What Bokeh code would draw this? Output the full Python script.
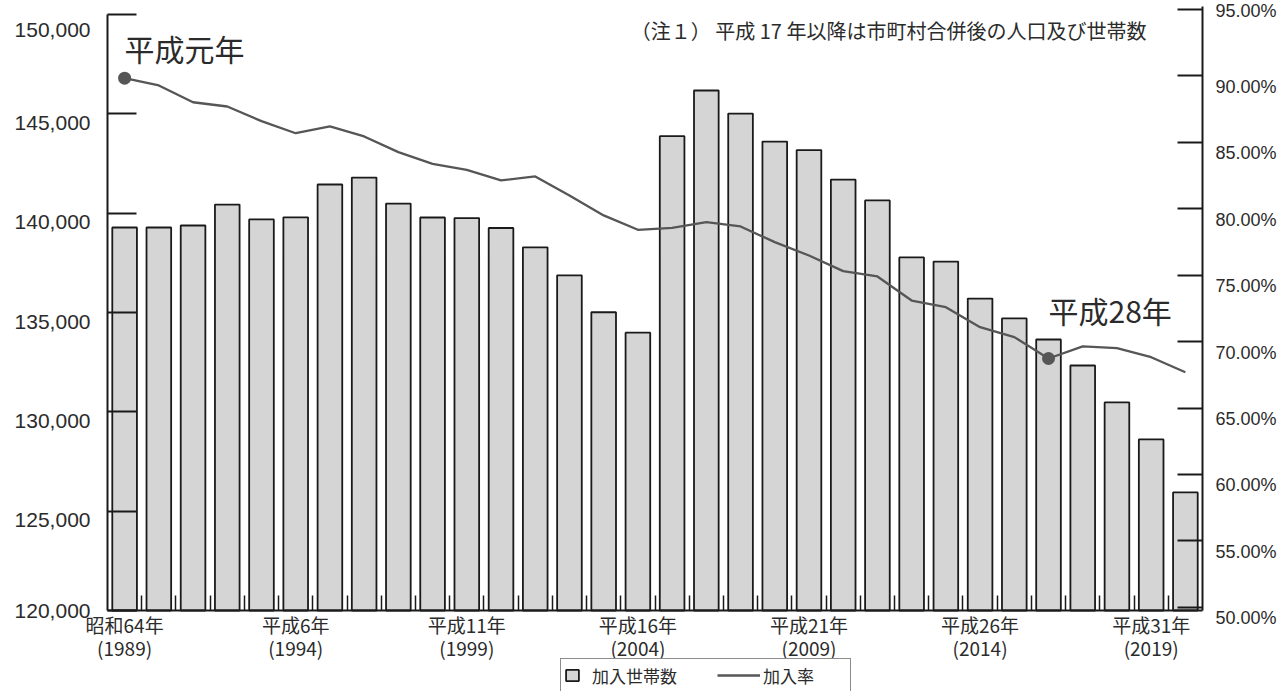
from bokeh.plotting import figure
from bokeh.models import (Range1d, LinearAxis, FixedTicker, Legend, LegendItem,
                          Label, NumeralTickFormatter, PrintfTickFormatter)
from bokeh.embed import file_html
from bokeh.resources import INLINE

# ---------------- data ----------------
years = list(range(1989, 2021))
households = [139275, 139275, 139375, 140430, 139680, 139790, 141440, 141790,
              140480, 139780, 139750, 139250, 138280, 136870, 135010, 133980,
              143870, 146170, 145010, 143600, 143170, 141690, 140640, 137770,
              137560, 135700, 134700, 133640, 132330, 130470, 128610, 125940]
rate = [89.8, 89.25, 87.99, 87.67, 86.57, 85.66, 86.17, 85.42,
        84.24, 83.36, 82.91, 82.11, 82.41, 80.98, 79.48, 78.40,
        78.55, 78.97, 78.65, 77.47, 76.47, 75.29, 74.89, 73.08,
        72.58, 71.08, 70.33, 68.72, 69.63, 69.50, 68.82, 67.69]
highlight_years = [1989, 2016]
label_years = [1989, 1994, 1999, 2004, 2009, 2014, 2019]
label_texts = ["昭和64年\n(1989)", "平成6年\n(1994)", "平成11年\n(1999)",
               "平成16年\n(2004)", "平成21年\n(2009)", "平成26年\n(2014)",
               "平成31年\n(2019)"]
left_ticks = [120000, 125000, 130000, 135000, 140000, 145000, 150000]
right_ticks = [50, 55, 60, 65, 70, 75, 80, 85, 90, 95]
note_text = "（注１） 平成 17 年以降は市町村合併後の人口及び世帯数"
legend_bar = "加入世帯数"
legend_line = "加入率"

JP = "Noto Sans CJK JP"
NUM = "Liberation Sans"
INK = "#1a1a1a"
TXT = "#2b2b2b"
GRAY = "#565656"

BASE = 120000
X0, X1 = 1988.5, 2020.5          # category edges of the bar area
p = figure(width=1287, height=691,
           x_range=Range1d(1985.373, 2022.984),
           y_range=Range1d(115923.5, 150700),
           output_backend="svg", toolbar_location=None,
           min_border_left=0, min_border_right=0,
           min_border_top=0, min_border_bottom=0)
p.extra_y_ranges = {"rate": Range1d(43.683, 95.641)}
p.outline_line_color = None
p.grid.visible = False
p.background_fill_color = "white"
p.border_fill_color = "white"

# bars
r_bar = p.vbar(x=years, top=households, bottom=BASE, width=0.72,
               fill_color="#d5d5d5", line_color=INK, line_width=1.8)
# line
r_line = p.line(x=years, y=rate, y_range_name="rate",
                line_color=GRAY, line_width=2.3)
hy = [rate[years.index(y)] for y in highlight_years]
p.scatter(x=highlight_years, y=hy, y_range_name="rate", size=13,
          fill_color=GRAY, line_color=None)

# x axis, drawn at the 120,000 baseline
xa = p.xaxis[0]
xa.fixed_location = BASE
xa.bounds = (X0, X1)
xa.ticker = FixedTicker(ticks=label_years,
                        minor_ticks=[y + 0.5 for y in years[:-1]])
xa.major_label_overrides = {y: t for y, t in zip(label_years, label_texts)}
xa.major_tick_in = 0
xa.major_tick_out = 0
xa.minor_tick_in = 15
xa.minor_tick_out = 0
xa.minor_tick_line_color = INK
xa.minor_tick_line_width = 1.5
xa.axis_line_color = INK
xa.axis_line_width = 2
xa.major_label_text_font = JP
xa.major_label_text_font_size = "19px"
xa.major_label_text_color = TXT
xa.major_label_text_line_height = 0.86
xa.major_label_standoff = 0

# left axis
ya = p.yaxis[0]
ya.fixed_location = X0
ya.bounds = (BASE, 150000)
ya.ticker = FixedTicker(ticks=left_ticks)
ya.formatter = NumeralTickFormatter(format="0,0")
ya.major_label_overrides = {t: ("{:,}".format(t) if t == BASE else " \n{:,}".format(t))
                            for t in left_ticks}
ya.major_tick_in = 29
ya.major_tick_out = 0
ya.major_tick_line_color = INK
ya.major_tick_line_width = 2
ya.minor_tick_line_color = None
ya.axis_line_color = INK
ya.axis_line_width = 2
ya.major_label_text_font = NUM
ya.major_label_text_font_size = "21px"
ya.major_label_text_color = TXT
ya.major_label_text_line_height = 0.75
ya.major_label_standoff = 17

# right axis
ra = LinearAxis(y_range_name="rate", ticker=FixedTicker(ticks=right_ticks),
                formatter=PrintfTickFormatter(format="%.2f%%"),
                bounds=(49.774, 95.19), fixed_location=X1)
ra.major_label_overrides = {t: ("{:.2f}%".format(t) if t == 95 else " \n{:.2f}%".format(t))
                            for t in right_ticks}
ra.major_tick_in = 25
ra.major_tick_out = 0
ra.major_tick_line_color = INK
ra.major_tick_line_width = 2
ra.minor_tick_line_color = None
ra.axis_line_color = INK
ra.axis_line_width = 2
ra.major_label_text_font = NUM
ra.major_label_text_font_size = "18px"
ra.major_label_text_color = TXT
ra.major_label_text_line_height = 1.1
ra.major_label_standoff = 13
p.add_layout(ra, "right")

# annotations
p.add_layout(Label(x=1989.0, y=148334, text="平成元年", text_font=JP,
                   text_font_size="30px", text_color=TXT,
                   text_align="left", text_baseline="middle"))
p.add_layout(Label(x=2016.0, y=135148, text="平成28年", text_font=JP,
                   text_font_size="30px", text_color=TXT,
                   text_align="left", text_baseline="middle"))
p.add_layout(Label(x=2018.86, y=149190, text=note_text, text_font=JP,
                   text_font_size="20px", text_color=TXT,
                   text_align="right", text_baseline="middle"))

# legend below the axis labels: boxed bar item + long line sample on top
common = dict(orientation="horizontal", padding=3, glyph_height=14,
              label_height=26, label_standoff=12, label_text_font=JP,
              label_text_font_size="17px", label_text_color=TXT, margin=0)
leg_a = Legend(items=[LegendItem(label=legend_bar, renderers=[r_bar])],
               location=(560, -1), glyph_width=16, label_width=255,
               border_line_color=INK, border_line_width=1.5,
               background_fill_color="white", background_fill_alpha=1.0,
               **common)
p.add_layout(leg_a, "center")
leg_b = Legend(items=[LegendItem(label=legend_line, renderers=[r_line])],
               location=(717, 3), glyph_width=43,
               border_line_color=None, background_fill_alpha=0.0,
               **{**common, "label_standoff": 3})
p.add_layout(leg_b, "center")

open("out.html", "w").write(file_html(p, INLINE))
